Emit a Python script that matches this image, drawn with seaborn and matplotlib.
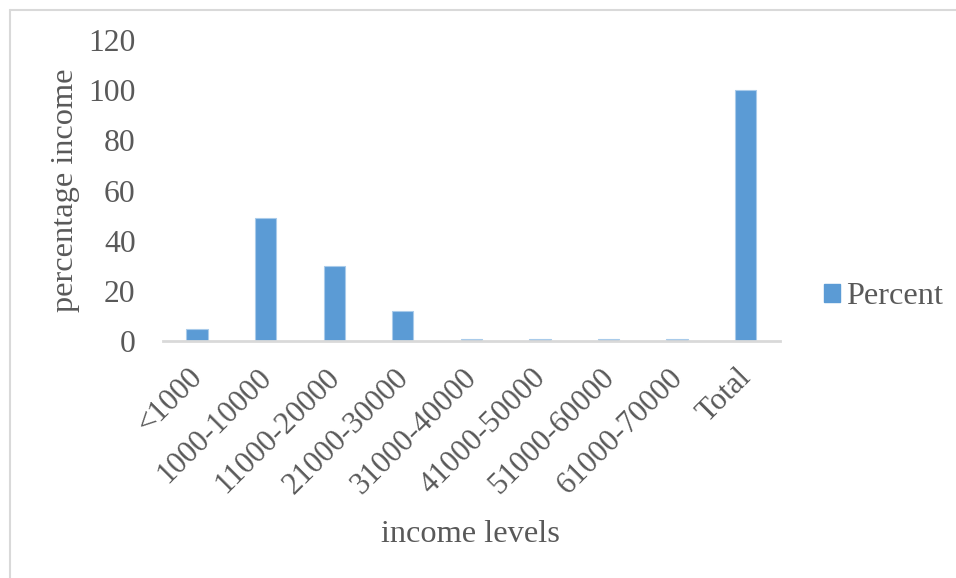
import matplotlib
matplotlib.use("Agg")
import matplotlib.pyplot as plt
import matplotlib.transforms as mtransforms
import seaborn as sns
import pandas as pd
from matplotlib.patches import Patch
from matplotlib.lines import Line2D

categories = ["<1000", "1000-10000", "11000-20000", "21000-30000", "31000-40000",
              "41000-50000", "51000-60000", "61000-70000", "Total"]
percent = [5, 49, 30, 12, 1, 1, 1, 1, 100]
y_ticks = [0, 20, 40, 60, 80, 100, 120]

BAR = "#5B9BD5"
TEXT = "#595959"
LINE = "#D9D9D9"
FS = 23.3

sns.set_theme(style="white")
plt.rcParams["font.family"] = ["Liberation Serif", "DejaVu Serif"]

df = pd.DataFrame({"level": categories, "Percent": percent})

fig = plt.figure(figsize=(9.56, 5.78), dpi=100)
ax = fig.add_axes([0.1702, 0.4095, 0.8159 - 0.1702, 0.9313 - 0.4095])

sns.barplot(data=df, x="level", y="Percent", color=BAR, width=0.31,
            edgecolor="#A9CBEA", linewidth=0.8, saturation=1, ax=ax)

ax.set_ylim(0, 120)
ax.set_xlim(-0.5, len(categories) - 0.5)
ax.set_yticks(y_ticks)
ax.set_yticklabels([str(t) for t in y_ticks], fontsize=22.8, color=TEXT)
ax.tick_params(axis="y", length=0, pad=19.5)
ax.tick_params(axis="x", length=0, pad=15.5)
ax.set_xticks(range(len(categories)))
ax.set_xticklabels(categories, fontsize=22.3, color=TEXT, rotation=45,
                   ha="right", va="top", rotation_mode="anchor")
# nudge the slanted labels left of their ticks
shift = mtransforms.ScaledTranslation(-9 / 100, 0, fig.dpi_scale_trans)
for lbl in ax.get_xticklabels():
    lbl.set_transform(lbl.get_transform() + shift)

for side in ["top", "right", "left"]:
    ax.spines[side].set_visible(False)
ax.spines["bottom"].set_color(LINE)
ax.spines["bottom"].set_linewidth(2)
ax.grid(False)

ax.set_xlabel("")
ax.set_ylabel("")
fig.text(470 / 956, 1 - 535 / 578, "income levels", fontsize=FS, color=TEXT,
         ha="center", va="center")
fig.text(66 / 956, 1 - 190 / 578, "percentage income", fontsize=FS, color=TEXT,
         ha="center", va="center", rotation=90)

handle = Patch(facecolor=BAR, edgecolor=BAR)
fig.legend(handles=[handle], labels=["Percent"], loc="center left",
           bbox_to_anchor=(823.5 / 956, 1 - 297 / 578), frameon=False,
           fontsize=FS, labelcolor=TEXT, handlelength=0.5, handleheight=0.5,
           handletextpad=0.2, borderpad=0, borderaxespad=0)

# chart-area border along the top and left edges
fig.add_artist(Line2D([9.5 / 956, 1.0], [1 - 9.5 / 578] * 2, color=LINE, lw=1.5,
                      transform=fig.transFigure))
fig.add_artist(Line2D([9.5 / 956] * 2, [0, 1 - 9.5 / 578], color=LINE, lw=1.5,
                      transform=fig.transFigure))

fig.savefig("out.png", dpi=100, facecolor="white")
